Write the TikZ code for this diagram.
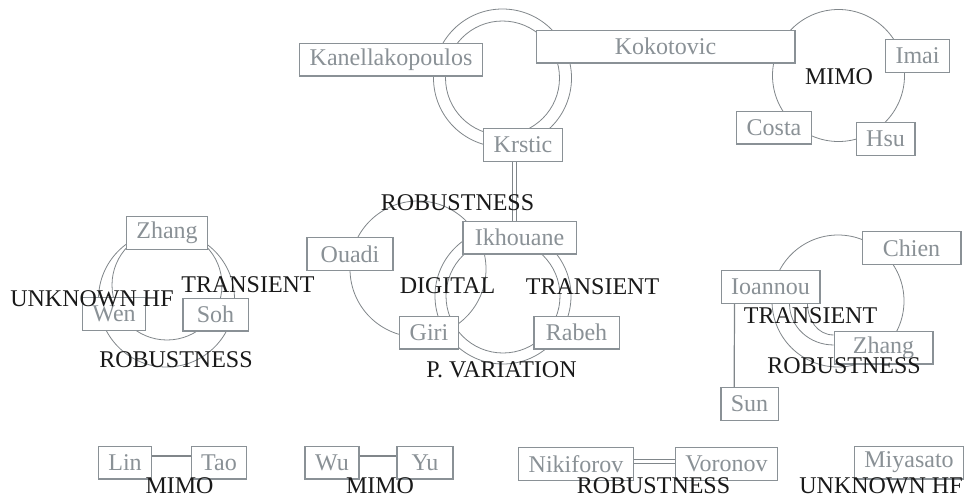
\documentclass[tikz,border=0pt]{standalone}
\usepackage{fontspec}
\setmainfont{Liberation Serif}
\definecolor{boxgray}{RGB}{138,145,150}
\definecolor{ringgray}{RGB}{128,134,138}
\definecolor{topicblack}{RGB}{25,25,25}
\begin{document}
\begin{tikzpicture}[x=0.75pt, y=-0.75pt,
    author/.style={draw=boxgray, line width=1pt, fill=white, text=boxgray,
        font=\fontsize{18}{20}\selectfont, minimum height=24.5pt, inner xsep=7.5pt, inner ysep=0pt},
    topic/.style={text=topicblack, font=\fontsize{18}{20}\selectfont, inner sep=0pt},
    ring/.style={draw=ringgray, line width=0.6pt},
    link/.style={draw=ringgray, line width=0.9pt}]
    \useasboundingbox (0,0) rectangle (969,496);

    			\draw[ring] (502.5,78) circle (69);
    			\draw[ring] (502.5,78) circle (57);
    			\draw[ring] (838.5,75.5) circle (66);
    			\draw[ring] (418,269) circle (68);
    			\draw[ring] (503,296) circle (68);
    			\draw[ring] (503,296) circle (57);
    			\draw[ring] (166.5,299) circle (68);
    			\draw[ring] (167,285) circle (55);
    			\draw[ring] (838,301) circle (66);

    			\node[author] (kanel) at (391,59.5) {Kanellakopoulos};
    			\node[author, minimum width=194pt] (koko) at (665.5,46.5) {Kokotovic};
    			\node[author] (krstic) at (523,145) {Krstic};
    			\node[author] (imai) at (917.5,56) {Imai};
    			\node[author] (costa) at (774,127.5) {Costa};
    			\node[author] (hsu) at (885.5,139) {Hsu};
    			\node[author, minimum width=64.5pt] (ouadi) at (350,254) {Ouadi};
    			\node[author, minimum width=85pt] (ikhou) at (519.5,237.5) {Ikhouane};
    			\node[author] (giri) at (429,332.5) {Giri};
    			\node[author, minimum width=64pt] (rabeh) at (576.5,332.5) {Rabeh};
    			\node[author] (zhangA) at (167,233) {Zhang};
    			\node[author] (wen) at (114,314) {Wen};
    			\node[author, minimum width=49pt] (soh) at (215.5,314.5) {Soh};
    			\node[author, minimum width=74pt] (chien) at (911.5,248) {Chien};
    			\node[author] (ioannou) at (770.5,287) {Ioannou};
    			\node[author, minimum width=74pt] (zhangB) at (883.5,347.5) {Zhang};
    			\node[author] (sun) at (749.5,404) {Sun};
    			\node[author] (lin) at (125,462.5) {Lin};
    			\node[author] (tao) at (219,462.5) {Tao};
    			\node[author] (wu) at (332,462.5) {Wu};
    			\node[author, minimum width=42pt] (yu) at (425,462.5) {Yu};
    			\node[author] (niki) at (576,464) {Nikiforov};
    			\node[author] (voro) at (726.5,464) {Voronov};
    			\node[author] (miya) at (909,462.5) {Miyasato};

    			\draw[ring] ([xshift=-8.25pt]krstic.south) -- ([xshift=-8.25pt]krstic.south |- ikhou.north);
    			\draw[ring] ([xshift=-5.25pt]krstic.south) -- ([xshift=-5.25pt]krstic.south |- ikhou.north);
    			\draw[link] ([xshift=10.5pt]ioannou.south west) -- ([xshift=10.5pt]sun.north west);
    			\draw[ring] ([xshift=51.75pt]ioannou.south west) to[out=-90, in=180] ([yshift=1.9pt]zhangB.west);
    			\draw[ring] ([xshift=65.25pt]ioannou.south west) to[out=-90, in=180] ([yshift=9.4pt]zhangB.west);
    			\draw[link] ([yshift=4.9pt]lin.east) -- ([yshift=4.9pt]tao.west);
    			\draw[link] ([yshift=4.9pt]wu.east) -- ([yshift=4.9pt]yu.west);
    			\draw[ring] ([yshift=3.75pt]niki.east) -- ([yshift=3.75pt]voro.west);
    			\draw[ring] ([yshift=0.75pt]niki.east) -- ([yshift=0.75pt]voro.west);

    			\node[topic] (mimoA) at (839,77) {MIMO};
    			\node[topic] (robA) at (457.5,203) {ROBUSTNESS};
    			\node[topic] (digital) at (447.5,286) {DIGITAL};
    			\node[topic] (transA) at (592.5,287) {TRANSIENT};
    			\node[topic] (pvar) at (501.5,369.5) {P. VARIATION};
    			\node[topic] (transB) at (248,285) {TRANSIENT};
    			\node[topic] (unkA) at (92,299) {UNKNOWN HF};
    			\node[topic] (robB) at (176,359.5) {ROBUSTNESS};
    			\node[topic] (transC) at (810.5,316) {TRANSIENT};
    			\node[topic] (robC) at (844,365.5) {ROBUSTNESS};
    			\node[topic] (mimoB) at (179.5,485.5) {MIMO};
    			\node[topic] (mimoC) at (380,485.5) {MIMO};
    			\node[topic] (robD) at (653.5,485.5) {ROBUSTNESS};
    			\node[topic] (unkB) at (881,485.5) {UNKNOWN HF};
\end{tikzpicture}
\end{document}
